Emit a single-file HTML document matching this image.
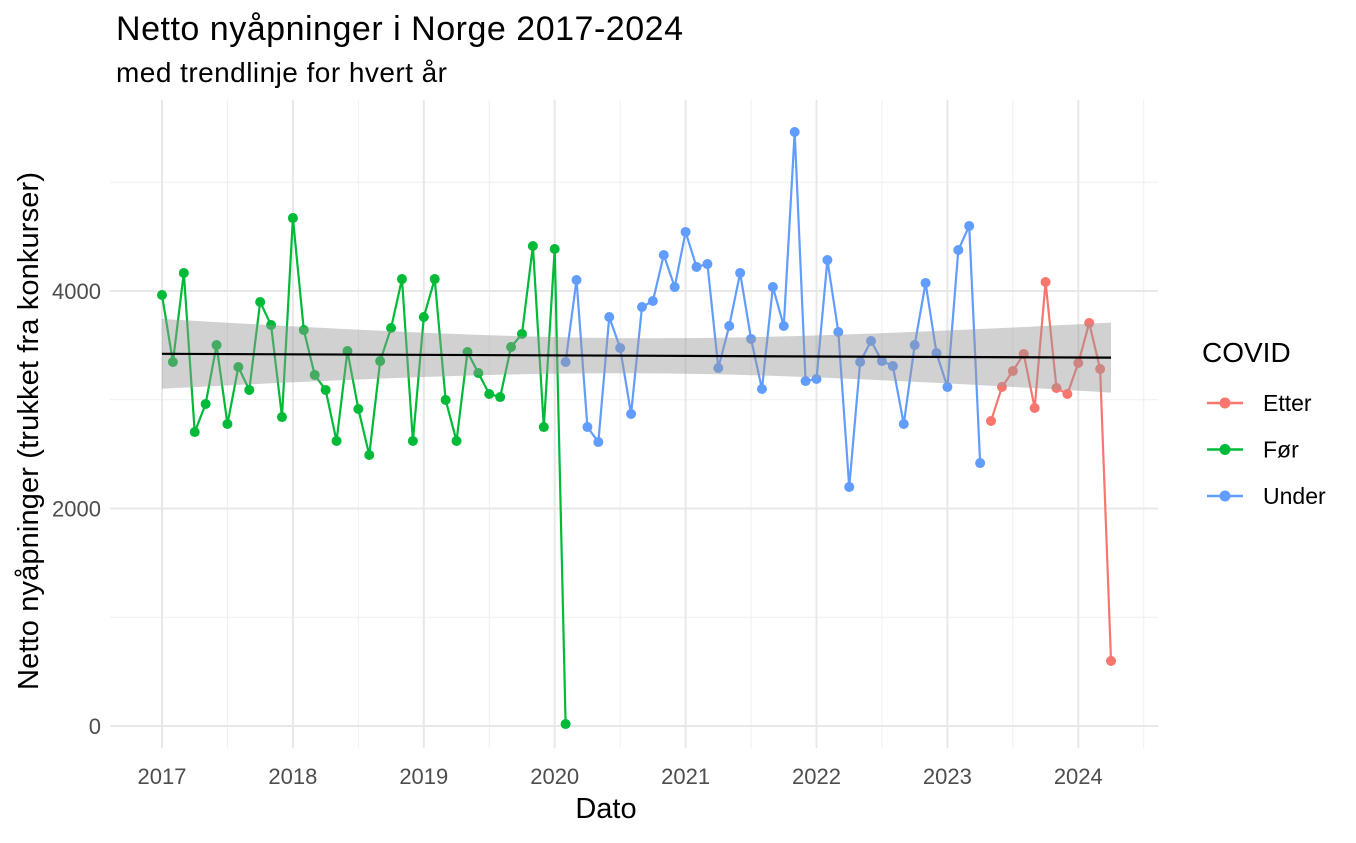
<!DOCTYPE html>
<html><head><meta charset="utf-8"><style>
body{margin:0;background:#fff;font-family:"Liberation Sans",Arial,sans-serif}
</style></head><body>
<svg id="chart" width="1356" height="838" xmlns="http://www.w3.org/2000/svg">
<text x="116" y="40" font-size="34" fill="#000" textLength="567">Netto nyåpninger i Norge 2017-2024</text>
<text x="116" y="82" font-size="28" fill="#000" textLength="331">med trendlinje for hvert år</text>
<g id="grid"></g><g id="band"></g><g id="series"></g><g id="axes"></g>
<text x="606" y="818" font-size="29" text-anchor="middle">Dato</text>
<text transform="translate(38,431) rotate(-90)" font-size="29" text-anchor="middle" textLength="518">Netto nyåpninger (trukket fra konkurser)</text>
<text x="1202" y="362" font-size="28">COVID</text>
<g id="legend"></g>
</svg>
<script>
const groups=["Etter","Før","Under"];
const groupColors=["#F8766D","#00BA38","#619CFF"];
const forStart=0;
const forValues=[3963,3347,4166,2703,2961,3503,2777,3301,3090,3899,3687,2841,
4671,3641,3228,3090,2621,3448,2915,2492,3356,3660,4110,2621,
3761,4110,2998,2621,3439,3246,3053,3025,3485,3605,4414,2749,
4386,18];
const underStart=37;
const underValues=[3347,4101,2749,2611,3761,3476,2869,3853,3908,4331,4037,
4543,4221,4248,3292,3678,4166,3559,3099,4037,3678,5462,3172,
3191,4285,3623,2198,3347,3540,3356,3310,2777,3503,4074,3430,
3117,4377,4598,2418];
const etterStart=76;
const etterValues=[2805,3117,3264,3421,2924,4083,3108,3053,3338,3706,3283,598];
const yTicks=[0,2000,4000];
const yMinor=[1000,3000,5000];
const xTickYears=[2017,2018,2019,2020,2021,2022,2023,2024];

const NS="http://www.w3.org/2000/svg";
const X0=110,X1=1158,Y0=100,Y1=748;
function xs(m){return 162+m*(130.9/12);}
function ys(v){return 726-v*0.10875;}
function mk(tag,attrs,parent){const e=document.createElementNS(NS,tag);for(const k in attrs)e.setAttribute(k,attrs[k]);document.getElementById(parent).appendChild(e);return e;}

yMinor.forEach(v=>{const l=mk("line",{x1:X0,x2:X1,y1:ys(v),y2:ys(v),stroke:"#efefef","stroke-width":1},"grid");

});
[-1].concat(xTickYears).forEach(y=>{const m=(y-2017)*12+6;if(xs(m)<X1){const l=mk("line",{x1:xs(m),x2:xs(m),y1:Y0,y2:Y1,stroke:"#efefef","stroke-width":1},"grid");

}});
yTicks.forEach(v=>{const l=mk("line",{x1:X0,x2:X1,y1:ys(v),y2:ys(v),stroke:"#e8e8e8","stroke-width":2},"grid");


const t=mk("text",{x:101,y:ys(v)+8,"font-size":22,fill:"#4d4d4d","text-anchor":"end"},"axes");t.textContent=v;

});
xTickYears.forEach(y=>{const m=(y-2017)*12;const l=mk("line",{x1:xs(m),x2:xs(m),y1:Y0,y2:Y1,stroke:"#e8e8e8","stroke-width":2},"grid");


const t=mk("text",{x:xs(m),y:784,"font-size":22,fill:"#4d4d4d","text-anchor":"middle"},"axes");t.textContent=y;

});

const pts=[];
forValues.forEach((v,i)=>pts.push([forStart+i,v]));
underValues.forEach((v,i)=>pts.push([underStart+i,v]));
etterValues.forEach((v,i)=>pts.push([etterStart+i,v]));
const n=pts.length;const mx=pts.reduce((a,p)=>a+p[0],0)/n,my=pts.reduce((a,p)=>a+p[1],0)/n;
let sxx=0,sxy=0;pts.forEach(p=>{sxx+=(p[0]-mx)**2;sxy+=(p[0]-mx)*(p[1]-my);});
const b=sxy/sxx,a=my-b*mx;let sse=0;pts.forEach(p=>{sse+=(p[1]-a-b*p[0])**2;});
const s=Math.sqrt(sse/(n-2));const tq=1.99;
const xmin=0,xmax=87;let up=[],lo=[];
for(let k=0;k<=60;k++){const x=xmin+(xmax-xmin)*k/60;const f=a+b*x;const se=s*Math.sqrt(1/n+(x-mx)**2/sxx)*tq;
up.push(xs(x)+","+ys(f+se));lo.unshift(xs(x)+","+ys(f-se));}
const band=mk("polygon",{points:up.concat(lo).join(" "),fill:"#999",opacity:0.45},"band");



function drawSeries(start,vals,color,name){
const p=vals.map((v,i)=>xs(start+i)+","+ys(v)).join(" ");
const l=mk("polyline",{points:p,fill:"none",stroke:color,"stroke-width":2.2},"series");


vals.forEach((v,i)=>{const c=mk("circle",{cx:xs(start+i),cy:ys(v),r:5,fill:color},"series");

});}
drawSeries(forStart,forValues,groupColors[1],"for");
drawSeries(underStart,underValues,groupColors[2],"under");
drawSeries(etterStart,etterValues,groupColors[0],"etter");
document.getElementById("series").after(document.getElementById("band"));
const tl=mk("line",{x1:xs(xmin),y1:ys(a+b*xmin),x2:xs(xmax),y2:ys(a+b*xmax),stroke:"#000","stroke-width":2.2},"band");



groups.forEach((g,i)=>{const y=403+i*46.5;
const l=mk("line",{x1:1207,x2:1243,y1:y,y2:y,stroke:groupColors[i],"stroke-width":2.5},"legend");


const c=mk("circle",{cx:1225,cy:y,r:5.5,fill:groupColors[i]},"legend");


const t=mk("text",{x:1263,y:y+8,"font-size":23,fill:"#000"},"legend");t.textContent=g;

});
</script>
</body></html>
